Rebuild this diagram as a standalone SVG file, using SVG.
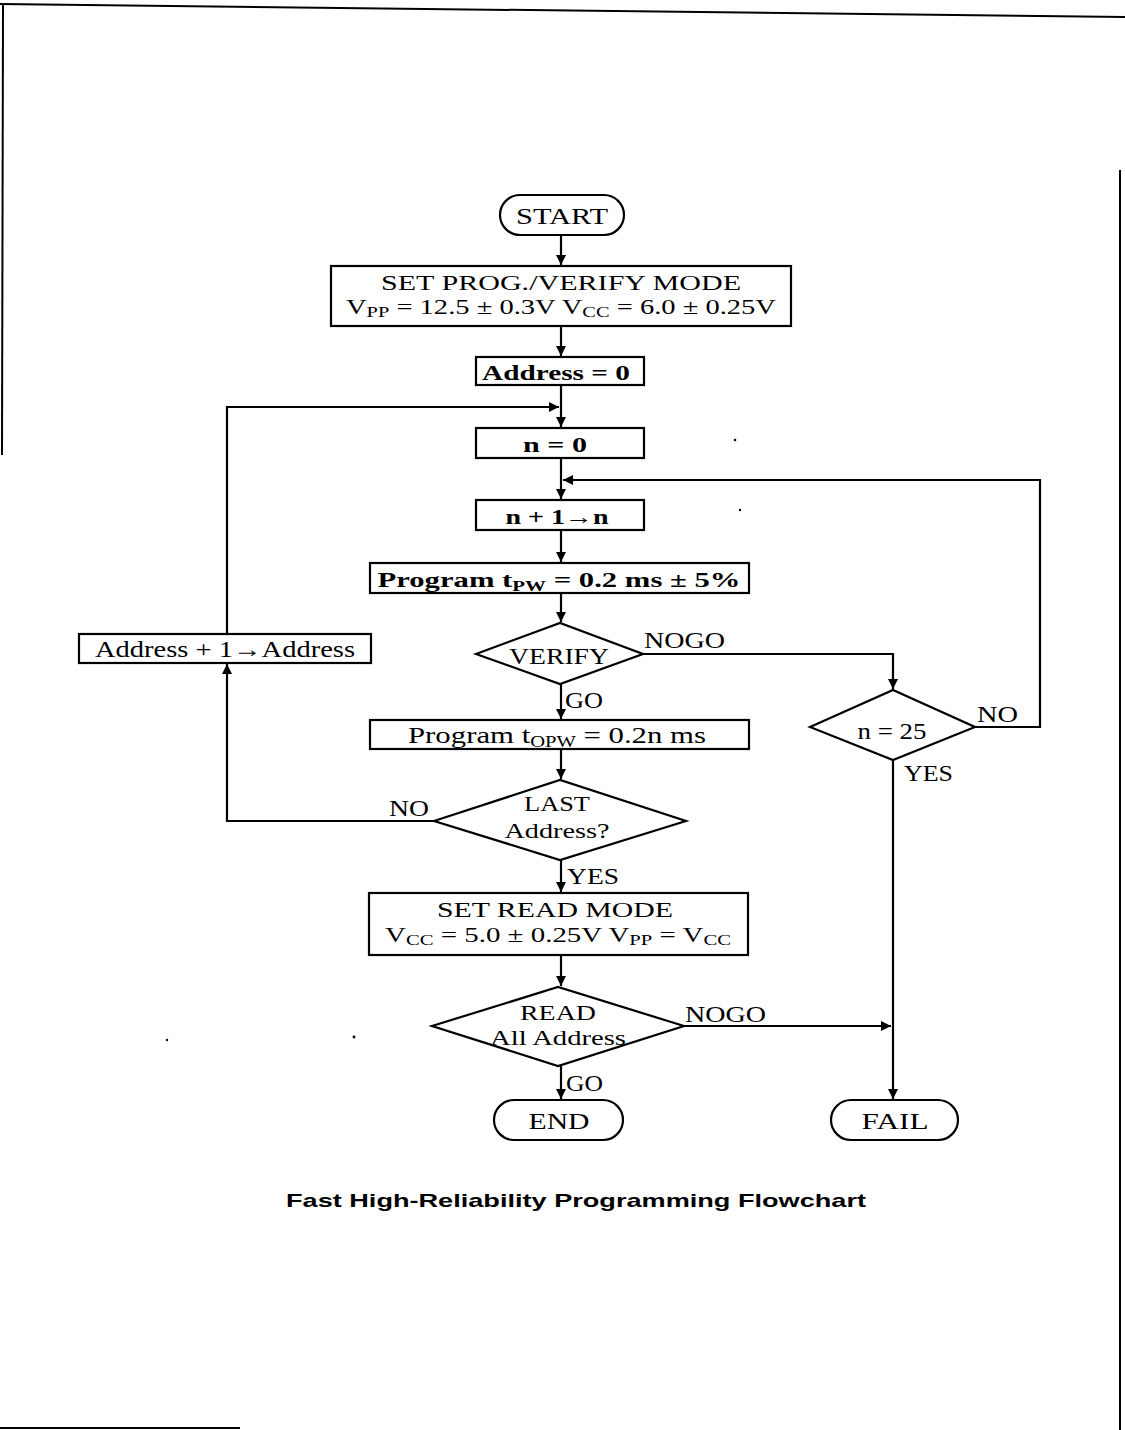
<svg xmlns="http://www.w3.org/2000/svg" width="1125" height="1430" viewBox="0 0 1125 1430">
<style>
.box{fill:#fff;stroke:#000;stroke-width:2.2}
.ln{fill:none;stroke:#000;stroke-width:2.2}
.t{font-family:"Liberation Serif","Times New Roman",serif;font-size:24px;fill:#000;text-anchor:middle}
.two{font-size:21px}
.b{font-weight:bold;font-size:22px}
.lbl{font-family:"Liberation Serif","Times New Roman",serif;font-size:23px;fill:#000}
.cap{font-family:"Liberation Sans",Arial,sans-serif;font-size:19px;font-weight:bold;fill:#000;text-anchor:middle}
.edge{fill:none;stroke:#000;stroke-width:2}
</style>
<defs>
<marker id="ah" markerWidth="12" markerHeight="12" refX="10" refY="5" orient="auto" markerUnits="userSpaceOnUse">
<path d="M0,0 L10,5 L0,10 Z" fill="#000"/>
</marker>
</defs>
<rect width="1125" height="1430" fill="#fff"/>
<g id="scan-edges">
<path class="edge" d="M0,4 L1125,17"/>
<path class="edge" d="M3,5 L2,455"/>
<path class="edge" d="M1120,170 L1120,1430"/>
<path class="edge" d="M0,1428 L240,1428"/>
<circle cx="735" cy="440" r="1.3" fill="#000"/>
<circle cx="740" cy="510" r="1.2" fill="#000"/>
<circle cx="167" cy="1040" r="1.2" fill="#000"/>
<circle cx="354" cy="1037" r="1.4" fill="#000"/>
</g>
<g id="connectors">
<path class="ln" d="M561,235 L561,265" marker-end="url(#ah)"/>
<path class="ln" d="M561,326 L561,356" marker-end="url(#ah)"/>
<path class="ln" d="M561,385 L561,427" marker-end="url(#ah)"/>
<path class="ln" d="M227,634 L227,407 L559,407" marker-end="url(#ah)"/>
<path class="ln" d="M561,458 L561,499" marker-end="url(#ah)"/>
<path class="ln" d="M975,727 L1040,727 L1040,480 L563,480" marker-end="url(#ah)"/>
<path class="ln" d="M561,530 L561,562" marker-end="url(#ah)"/>
<path class="ln" d="M561,593 L561,622" marker-end="url(#ah)"/>
<path class="ln" d="M643,654 L893,654 L893,689" marker-end="url(#ah)"/>
<path class="ln" d="M561,684 L561,719" marker-end="url(#ah)"/>
<path class="ln" d="M561,749 L561,779" marker-end="url(#ah)"/>
<path class="ln" d="M434,821 L227,821 L227,664" marker-end="url(#ah)"/>
<path class="ln" d="M561,860 L561,892" marker-end="url(#ah)"/>
<path class="ln" d="M561,955 L561,986" marker-end="url(#ah)"/>
<path class="ln" d="M893,760 L893,1099" marker-end="url(#ah)"/>
<path class="ln" d="M684,1026 L891,1026" marker-end="url(#ah)"/>
<path class="ln" d="M561,1066 L561,1099" marker-end="url(#ah)"/>
</g>
<g id="edge-labels">
<text class="lbl" x="644" y="648" textLength="81" lengthAdjust="spacingAndGlyphs">NOGO</text>
<text class="lbl" x="565" y="708" textLength="38" lengthAdjust="spacingAndGlyphs">GO</text>
<text class="lbl" x="977" y="722" textLength="41" lengthAdjust="spacingAndGlyphs">NO</text>
<text class="lbl" x="904" y="781" textLength="49" lengthAdjust="spacingAndGlyphs">YES</text>
<text class="lbl" x="389" y="816" textLength="40" lengthAdjust="spacingAndGlyphs">NO</text>
<text class="lbl" x="567" y="884" textLength="52" lengthAdjust="spacingAndGlyphs">YES</text>
<text class="lbl" x="685" y="1022" textLength="81" lengthAdjust="spacingAndGlyphs">NOGO</text>
<text class="lbl" x="566" y="1091" textLength="37" lengthAdjust="spacingAndGlyphs">GO</text>
</g>
<g id="start">
<rect class="box" x="500" y="195" width="124" height="40" rx="20"/>
<text class="t" x="562" y="224" textLength="92" lengthAdjust="spacingAndGlyphs">START</text>
</g>
<g id="set-prog">
<rect class="box" x="331" y="266" width="460" height="60"/>
<text class="t two" x="561" y="290" textLength="360" lengthAdjust="spacingAndGlyphs">SET PROG./VERIFY MODE</text>
<text class="t two" x="561" y="314" textLength="430" lengthAdjust="spacingAndGlyphs">V<tspan font-size="15" dy="3">PP</tspan><tspan dy="-3"> = 12.5 ± 0.3V  V</tspan><tspan font-size="15" dy="3">CC</tspan><tspan dy="-3"> = 6.0 ± 0.25V</tspan></text>
</g>
<g id="address0">
<rect class="box" x="476" y="357" width="168" height="28"/>
<text class="t b" x="556" y="380" textLength="148" lengthAdjust="spacingAndGlyphs">Address = 0</text>
</g>
<g id="n0">
<rect class="box" x="476" y="428" width="168" height="30"/>
<text class="t b" x="555" y="452" textLength="64" lengthAdjust="spacingAndGlyphs">n = 0</text>
</g>
<g id="n-inc">
<rect class="box" x="476" y="500" width="168" height="30"/>
<text class="t b" x="557" y="524" textLength="103" lengthAdjust="spacingAndGlyphs">n + 1→n</text>
</g>
<g id="program-tpw">
<rect class="box" x="370" y="563" width="379" height="30"/>
<text class="t b" x="559" y="587" textLength="363" lengthAdjust="spacingAndGlyphs">Program  t<tspan font-size="15" dy="4">PW</tspan><tspan dy="-4"> = 0.2 ms ± 5%</tspan></text>
</g>
<g id="verify">
<polygon class="box" points="476,654 560,623 643,654 560,684"/>
<text class="t" x="559" y="664" textLength="100" lengthAdjust="spacingAndGlyphs">VERIFY</text>
</g>
<g id="address-inc">
<rect class="box" x="79" y="634" width="292" height="29"/>
<text class="t" x="225" y="657" textLength="260" lengthAdjust="spacingAndGlyphs">Address + 1→Address</text>
</g>
<g id="n25">
<polygon class="box" points="810,727 893,690 975,727 893,760"/>
<text class="t" x="892" y="739" textLength="69" lengthAdjust="spacingAndGlyphs">n = 25</text>
</g>
<g id="program-topw">
<rect class="box" x="370" y="720" width="379" height="29"/>
<text class="t" x="557" y="743" textLength="298" lengthAdjust="spacingAndGlyphs">Program  t<tspan font-size="16" dy="4">OPW</tspan><tspan dy="-4"> = 0.2n ms</tspan></text>
</g>
<g id="last-address">
<polygon class="box" points="434,821 560,780 686,821 560,860"/>
<text class="t two" x="557" y="811" textLength="66" lengthAdjust="spacingAndGlyphs">LAST</text>
<text class="t two" x="557" y="838" textLength="105" lengthAdjust="spacingAndGlyphs">Address?</text>
</g>
<g id="set-read">
<rect class="box" x="369" y="893" width="379" height="62"/>
<text class="t two" x="555" y="917" textLength="236" lengthAdjust="spacingAndGlyphs">SET READ MODE</text>
<text class="t two" x="558" y="942" textLength="346" lengthAdjust="spacingAndGlyphs">V<tspan font-size="15" dy="3">CC</tspan><tspan dy="-3"> = 5.0 ± 0.25V  V</tspan><tspan font-size="15" dy="3">PP</tspan><tspan dy="-3"> = V</tspan><tspan font-size="15" dy="3">CC</tspan></text>
</g>
<g id="read-all">
<polygon class="box" points="432,1026 558,987 684,1026 558,1066"/>
<text class="t two" x="558" y="1020" textLength="76" lengthAdjust="spacingAndGlyphs">READ</text>
<text class="t two" x="558" y="1045" textLength="136" lengthAdjust="spacingAndGlyphs">All Address</text>
</g>
<g id="end">
<rect class="box" x="494" y="1100" width="129" height="40" rx="20"/>
<text class="t" x="559" y="1129" textLength="61" lengthAdjust="spacingAndGlyphs">END</text>
</g>
<g id="fail">
<rect class="box" x="831" y="1100" width="127" height="40" rx="20"/>
<text class="t" x="895" y="1129" textLength="67" lengthAdjust="spacingAndGlyphs">FAIL</text>
</g>
<text class="cap" x="576" y="1207" textLength="580" lengthAdjust="spacingAndGlyphs">Fast High-Reliability Programming Flowchart</text>
</svg>
